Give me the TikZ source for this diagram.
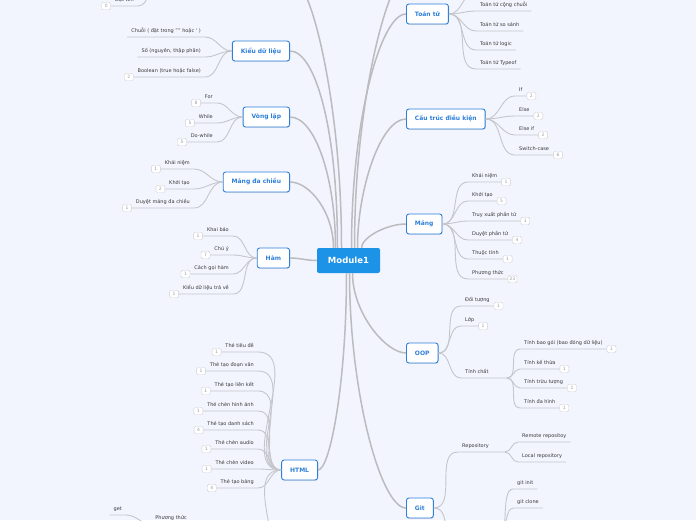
\documentclass[tikz,border=0pt]{standalone}
\usepackage{fontspec}
\setmainfont{DejaVu Sans}
\usetikzlibrary{shadows}
\definecolor{bgmap}{HTML}{F2F5FD}
\definecolor{topicblue}{HTML}{2E7FD9}
\definecolor{rootblue}{HTML}{1C93E6}
\definecolor{linkgray}{HTML}{C5C6CC}
\definecolor{spinegray}{HTML}{BBBBC0}
\definecolor{leafink}{HTML}{3A3A3A}
\definecolor{badgeline}{HTML}{CDCFD6}
\definecolor{badgeink}{HTML}{9C9CA3}
\tikzset{
  root/.style={fill=rootblue,text=white,rounded corners=2pt,minimum width=63pt,minimum height=25pt,inner sep=0pt,font=\bfseries\fontsize{8.5}{10}\selectfont},
  topic/.style={draw=topicblue,line width=0.9pt,fill=white,rounded corners=2.5pt,text=topicblue,minimum height=20pt,inner xsep=8.5pt,inner ysep=0pt,font=\bfseries\fontsize{6}{7}\selectfont,drop shadow={opacity=0.2,shadow xshift=0.6pt,shadow yshift=-0.8pt}},
  leaf/.style={text=leafink,inner xsep=4pt,inner ysep=3pt,text height=4pt,text depth=1.2pt,font=\fontsize{5}{6}\selectfont},
  badge/.style={draw=badgeline,fill=white,text=badgeink,rounded corners=1.5pt,minimum width=9pt,minimum height=7.5pt,inner sep=0.8pt,font=\fontsize{4.5}{5}\selectfont},
  spine/.style={draw=spinegray,line width=1.5pt},
  link/.style={draw=linkgray,line width=0.9pt}
}
\begin{document}
\begin{tikzpicture}[x=1pt,y=-1pt]
\clip (0,0) rectangle (696,520);
\fill[bgmap] (0,0) rectangle (696,520);
% main topics
\node[root] (m) at (348.5,260.5) {Module1};
\node[topic,anchor=west] (toan) at (406,14) {Toán tử};
\node[topic,anchor=east] (kdl) at (290,51) {Kiểu dữ liệu};
\node[topic,anchor=east] (vl) at (290,117) {Vòng lặp};
\node[topic,anchor=west] (ctdk) at (406,119) {Cấu trúc điều kiện};
\node[topic,anchor=east] (mdc) at (290,182) {Mảng đa chiều};
\node[topic,anchor=west] (mang) at (406,224) {Mảng};
\node[topic,anchor=east] (ham) at (290,258) {Hàm};
\node[topic,anchor=west] (oop) at (406,353) {OOP};
\node[topic,anchor=east] (html) at (318,470) {HTML};
\node[topic,anchor=west] (git) at (406,508) {Git};
\coordinate (upl) at (298,-14);
\coordinate (upr) at (404,-22);
% spine
\begin{scope}[spine]
\draw ([xshift=-7pt]m.north) to[out=90,in=0,out distance=150pt,in distance=12pt] (upl);
\draw ([xshift=-11pt]m.north) to[out=90,in=0,out distance=120pt,in distance=25pt] (kdl.east);
\draw ([xshift=-13pt]m.north) to[out=90,in=0,out distance=70pt,in distance=25pt] (vl.east);
\draw ([xshift=-15pt]m.north) to[out=90,in=0,out distance=35pt,in distance=20pt] (mdc.east);
\draw (m.west) to[out=180,in=0] (ham.east);
\draw ([xshift=3pt]m.north) to[out=90,in=180,out distance=130pt,in distance=25pt] (toan.west);
\draw ([xshift=6pt]m.north) to[out=90,in=180,out distance=150pt,in distance=15pt] (upr);
\draw ([xshift=9pt]m.north) to[out=90,in=180,out distance=60pt,in distance=25pt] (ctdk.west);
\draw ([xshift=13pt]m.north) to[out=90,in=180,out distance=10pt,in distance=20pt] (mang.west);
\draw ([xshift=-2pt]m.south) to[out=270,in=0,out distance=110pt,in distance=12pt] (html.east);
\draw ([xshift=1pt]m.south) to[out=270,in=180,out distance=120pt,in distance=25pt] (git.west);
\draw ([xshift=4pt]m.south) to[out=270,in=180,out distance=40pt,in distance=20pt] (oop.west);
\end{scope}
% Toán tử
\coordinate (toan0) at (476,-8);
\draw[link] (toan.east) to[out=0,in=180] (toan0);
\foreach \y/\txt [count=\i] in {11/Toán tử cộng chuỗi,31/Toán tử so sánh,50/Toán tử logic,69/Toán tử Typeof}{
  \node[leaf,anchor=south west] (toan\i) at (476,\y) {\txt};
  \draw[link] (toan.east) to[out=0,in=180] (toan\i.south west) -- (toan\i.south east);
}
% Cấu trúc điều kiện
\foreach \y/\txt/\n [count=\i] in {96/If/2,116/Else/2,135/Else if/2,155/Switch-case/6}{
  \node[leaf,anchor=south west] (ctdk\i) at (515,\y) {\txt};
  \node[badge,anchor=west] (ctdkb\i) at (ctdk\i.south east) {\n};
  \draw[link] (ctdk.east) to[out=0,in=180] (ctdk\i.south west) -- (ctdkb\i.west);
}
% Mảng
\foreach \y/\txt/\n [count=\i] in {182/Khái niệm/1,201/Khởi tạo/5,221/Truy xuất phần tử/1,240/Duyệt phần tử/4,259/Thuộc tính/1,279/Phương thức/23}{
  \node[leaf,anchor=south west] (mang\i) at (468,\y) {\txt};
  \node[badge,anchor=west] (mangb\i) at (mang\i.south east) {\n};
  \draw[link] (mang.east) to[out=0,in=180] (mang\i.south west) -- (mangb\i.west);
}
% OOP
\foreach \y/\txt [count=\i] in {306/Đối tượng,326/Lớp}{
  \node[leaf,anchor=south west] (oop\i) at (461,\y) {\txt};
  \node[badge,anchor=west] (oopb\i) at (oop\i.south east) {1};
  \draw[link] (oop.east) to[out=0,in=180] (oop\i.south west) -- (oopb\i.west);
}
\node[leaf,anchor=south west] (oop3) at (461,378) {Tính chất};
\coordinate (tc) at (507,378);
\draw[link] (oop.east) to[out=0,in=180] (oop3.south west) -- (tc);
\foreach \y/\txt [count=\i] in {349/{Tính bao gói (bao đóng dữ liệu)},369/Tính kế thừa,388/Tính trừu tượng,408/Tính đa hình}{
  \node[leaf,anchor=south west] (tc\i) at (520,\y) {\txt};
  \node[badge,anchor=west] (tcb\i) at (tc\i.south east) {1};
  \draw[link] (tc) to[out=0,in=180] (tc\i.south west) -- (tcb\i.west);
}
% Git
\node[leaf,anchor=south west] (git1) at (458,452) {Repository};
\coordinate (repo) at (505,452);
\draw[link] (git.east) to[out=0,in=180] (git1.south west) -- (repo);
\foreach \y/\txt [count=\i] in {442/Remote repositoy,462/Local repository}{
  \node[leaf,anchor=south west] (repo\i) at (518,\y) {\txt};
  \draw[link] (repo) to[out=0,in=180] (repo\i.south west) -- (repo\i.south east);
}
\coordinate (git2) at (458,560);
\draw[link] (git.east) to[out=0,in=180] (git2);
\coordinate (gcmd) at (497,545);
\foreach \y/\txt [count=\i] in {489/git init,508/git clone}{
  \node[leaf,anchor=south west] (gcmd\i) at (513,\y) {\txt};
  \draw[link] (gcmd) to[out=0,in=180,looseness=0.6] (gcmd\i.south west) -- (gcmd\i.south east);
}
% Kiểu dữ liệu
\foreach \y/\txt [count=\i] in {37/{Chuỗi ( đặt trong "" hoặc \textquotesingle{} )},57/{Số (nguyên, thập phân)},77/{Boolean (true hoặc false)}}{
  \node[leaf,anchor=south east] (kdl\i) at (205,\y) {\txt};
  \draw[link] (kdl.west) to[out=180,in=0] (kdl\i.south east) -- (kdl\i.south west);
}
\node[badge,anchor=east] (kdlb3) at (kdl3.south west) {2};
% Vòng lặp
\foreach \y/\txt/\n [count=\i] in {103/For/8,123/While/5,142/Do-while/5}{
  \node[leaf,anchor=south east] (vl\i) at (217,\y) {\txt};
  \node[badge,anchor=east] (vlb\i) at (vl\i.south west) {\n};
  \draw[link] (vl.west) to[out=180,in=0] (vl\i.south east) -- (vlb\i.east);
}
% Mảng đa chiều
\foreach \y/\txt/\n [count=\i] in {169/Khái niệm/1,189/Khởi tạo/2,208/Duyệt mảng đa chiều/1}{
  \node[leaf,anchor=south east] (mdc\i) at (194,\y) {\txt};
  \node[badge,anchor=east] (mdcb\i) at (mdc\i.south west) {\n};
  \draw[link] (mdc.west) to[out=180,in=0] (mdc\i.south east) -- (mdcb\i.east);
}
% Hàm
\foreach \y/\txt/\n [count=\i] in {236/Khai báo/1,255/Chú ý/7,274/Cách gọi hàm/1,294/Kiểu dữ liệu trả về/1}{
  \node[leaf,anchor=south east] (ham\i) at (233,\y) {\txt};
  \node[badge,anchor=east] (hamb\i) at (ham\i.south west) {\n};
  \draw[link] (ham.west) to[out=180,in=0] (ham\i.south east) -- (hamb\i.east);
}
% HTML
\foreach \y/\txt/\n [count=\i] in {352/Thẻ tiêu đề/1,371/Thẻ tạo đoạn văn/1,391/Thẻ tạo liên kết/1,411/Thẻ chèn hình ảnh/1,430/Thẻ tạo danh sách/4,449/Thẻ chèn audio/1,469/Thẻ chèn video/1,488/Thẻ tạo bảng/4}{
  \node[leaf,anchor=south east] (html\i) at (258,\y) {\txt};
  \node[badge,anchor=east] (htmlb\i) at (html\i.south west) {\n};
  \draw[link] (html.west) to[out=180,in=0] (html\i.south east) -- (htmlb\i.east);
}
\coordinate (htmlx) at (258,585);
\draw[link] (html.west) to[out=180,in=0] (htmlx);
\node[leaf,anchor=south east] (pt) at (191,524) {Phương thức};
\node[leaf,anchor=south east] (get) at (126,515) {get};
\draw[link] (pt.south west) to[out=180,in=0] (get.south east) -- (get.south west);
% top edge
\node[leaf,anchor=south east] (dt) at (138,6) {Đặt tên};
\node[badge,anchor=east] (dtb) at (dt.south west) {0};
\coordinate (dtp) at (160,-20);
\draw[link] (dtp) to[out=180,in=0] (dt.south east) -- (dtb.east);
\end{tikzpicture}
\end{document}
